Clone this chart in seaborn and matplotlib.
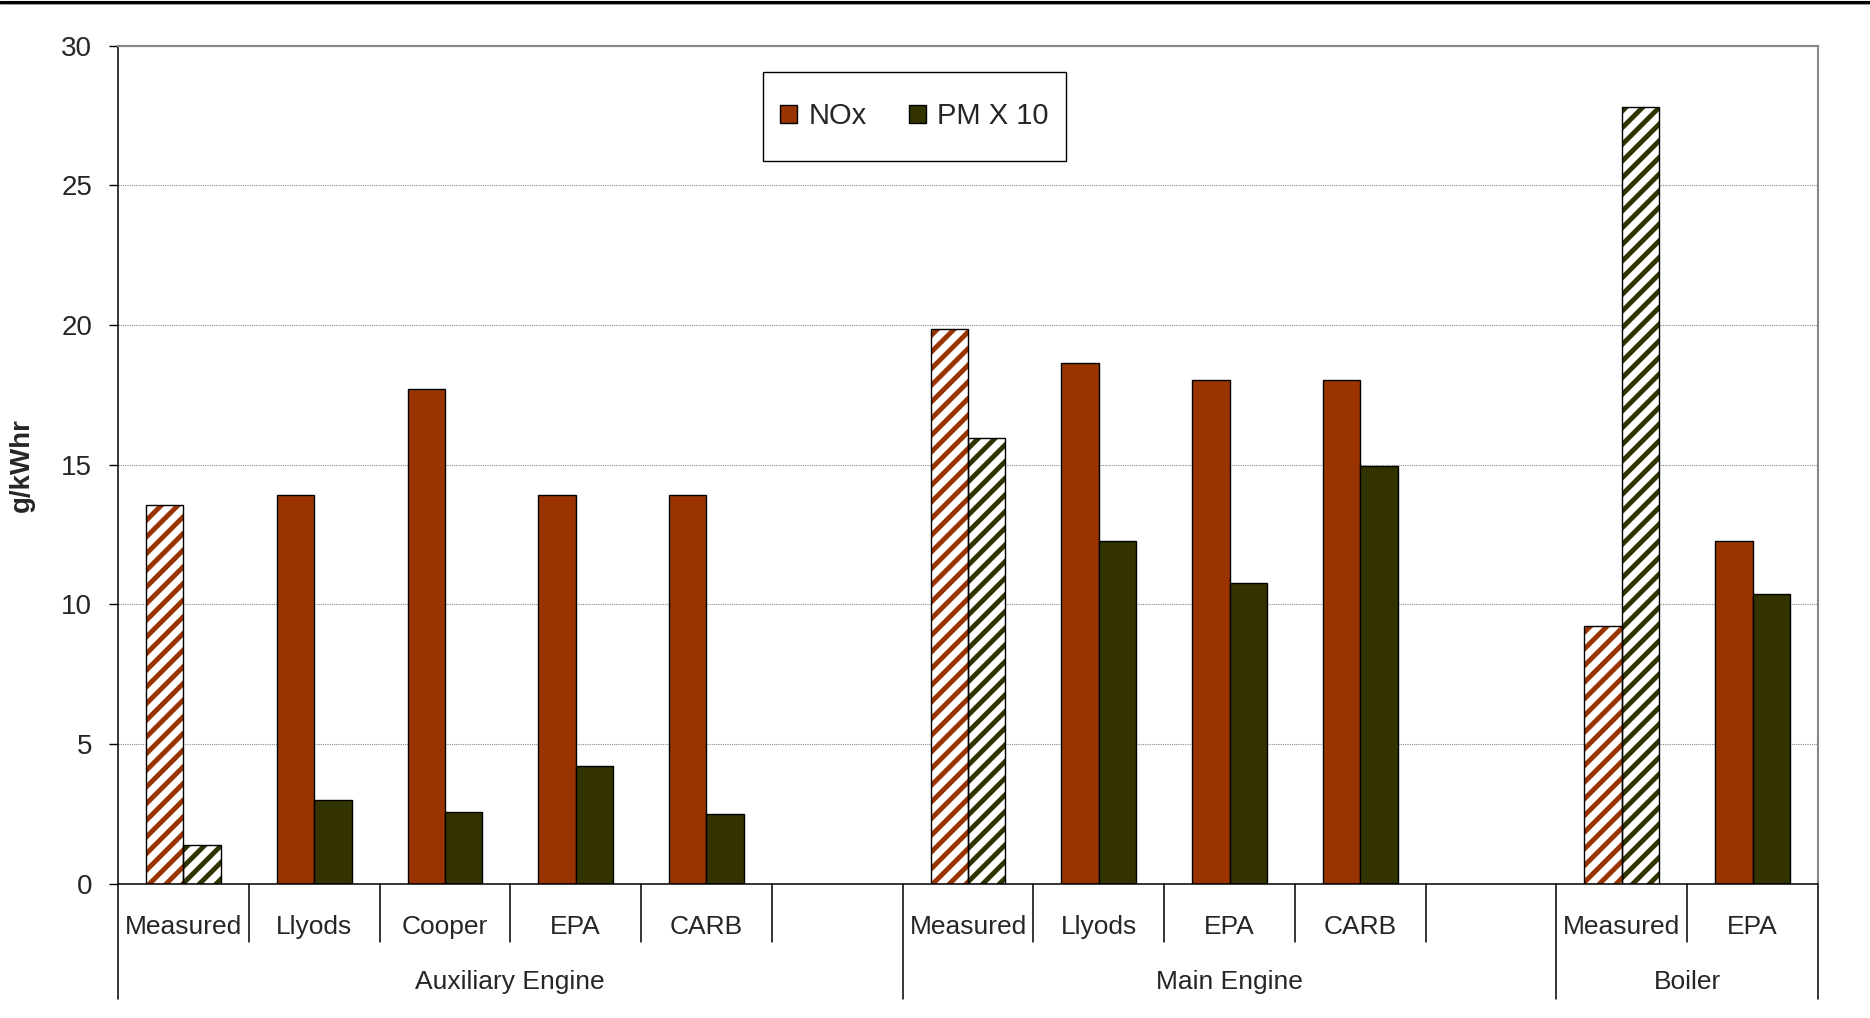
import numpy as np
import pandas as pd
import matplotlib
matplotlib.use("Agg")
import matplotlib.pyplot as plt
from matplotlib.patches import Patch, Rectangle
from matplotlib.lines import Line2D
import matplotlib.transforms as mtransforms
import seaborn as sns

# ---- data -------------------------------------------------------------
groups = ["Auxiliary Engine", "Main Engine", "Boiler"]
group_sources = [
    ["Measured", "Llyods", "Cooper", "EPA", "CARB", ""],
    ["Measured", "Llyods", "EPA", "CARB", ""],
    ["Measured", "EPA"],
]
nox = [13.55, 13.9, 17.7, 13.9, 13.9, None,
       19.85, 18.65, 18.05, 18.05, None,
       9.22, 12.26]
pm_x10 = [1.37, 2.98, 2.58, 4.2, 2.5, None,
          15.97, 12.27, 10.77, 14.95, None,
          27.8, 10.38]
series = ["NOx", "PM X 10"]
colors = {"NOx": "#993300", "PM X 10": "#333300"}
yticks = [0, 5, 10, 15, 20, 25, 30]

# ---- long-form table ----------------------------------------------------
slot_keys, slot_labels = [], []
for g, srcs in zip(groups, group_sources):
    for s in srcs:
        slot_keys.append(f"{g}|{s}")
        slot_labels.append(s)

rows = []
for key, lab, a, b in zip(slot_keys, slot_labels, nox, pm_x10):
    if a is not None:
        rows.append({"slot": key, "series": "NOx", "value": a})
    if b is not None:
        rows.append({"slot": key, "series": "PM X 10", "value": b})
df = pd.DataFrame(rows)

# ---- styling ------------------------------------------------------------
sns.set_style("white")
plt.rcParams["font.family"] = ["Liberation Sans", "DejaVu Sans"]
plt.rcParams["hatch.linewidth"] = 3.5

fig = plt.figure(figsize=(18.7, 10.18), dpi=100)
ax = fig.add_axes([118 / 1870, 1 - 883.7 / 1018, 1700 / 1870, 838 / 1018])

sns.barplot(data=df, x="slot", y="value", hue="series", order=slot_keys,
            hue_order=series, palette=colors, width=2 / 3.5, gap=0,
            edgecolor="black", linewidth=1.0, saturation=1, legend=False,
            errorbar=None, ax=ax)

# measured values are drawn hatched in the series colour
for container, name in zip(ax.containers, series):
    for bar in container.patches:
        idx = int(round(bar.get_x() + bar.get_width() / 2))
        if slot_labels[idx] == "Measured":
            bar.set_facecolor("white")
            bar.set_edgecolor(colors[name])
            bar.set_hatch("//")
            bar.set_linewidth(0)
            ax.add_patch(Rectangle(bar.get_xy(), bar.get_width(), bar.get_height(),
                                   fill=False, edgecolor="black", linewidth=1.0,
                                   zorder=bar.get_zorder() + 0.1))

# ---- axes ---------------------------------------------------------------
ax.set_ylim(0, 30)
ax.set_xlim(-0.5, len(slot_keys) - 0.5)
ax.set_yticks(yticks)
ax.set_yticklabels([str(t) for t in yticks])
ax.tick_params(axis="y", length=6.5, width=1.0, color="black", pad=12,
               labelsize=20, left=True, direction="out")
ax.tick_params(axis="x", length=0, labelbottom=False)
ax.set_xlabel("")
ax.set_ylabel("g/kWhr", fontsize=20, fontweight="bold")
ax.yaxis.set_label_coords(-0.0488, 0.5)

ax.yaxis.grid(True, color="#8a8a8a", linestyle=(0, (1, 1)), linewidth=0.8)
ax.set_axisbelow(True)

for side in ("left", "bottom"):
    ax.spines[side].set_color("black")
    ax.spines[side].set_linewidth(1.1)
for side in ("top", "right"):
    ax.spines[side].set_color("#878787")
    ax.spines[side].set_linewidth(1.5)

# ---- two-level category axis -------------------------------------------
trans = mtransforms.blended_transform_factory(ax.transData, ax.transAxes)
short_y = -(942 - 883.7) / 838
long_y = -(999 - 883.7) / 838
label_y = -(927 - 883.7) / 838
group_y = -(982 - 883.7) / 838

group_edges = [-0.5]
for srcs in group_sources:
    group_edges.append(group_edges[-1] + len(srcs))

for i in range(len(slot_keys) + 1):
    xb = i - 0.5
    y_end = long_y if xb in group_edges else short_y
    ax.add_line(Line2D([xb, xb], [0, y_end], transform=trans, color="black",
                       linewidth=1.1, clip_on=False))

for i, lab in enumerate(slot_labels):
    if lab:
        ax.text(i, label_y, lab, transform=trans, ha="center", va="center",
                fontsize=19)

for g, x0, x1 in zip(groups, group_edges[:-1], group_edges[1:]):
    ax.text((x0 + x1) / 2, group_y, g, transform=trans, ha="center",
            va="center", fontsize=19)

# ---- legend -------------------------------------------------------------
handles = [Patch(facecolor=colors[s], edgecolor="black", linewidth=1.0)
           for s in series]
leg = ax.legend(handles, series, loc="center", bbox_to_anchor=(0.4684, 0.9157),
                ncol=2, fontsize=21, frameon=False, borderpad=0,
                handlelength=0.58, handleheight=0.58, handletextpad=0.38,
                columnspacing=1.44, borderaxespad=0)
ax.add_patch(Rectangle((0.3792, 0.8628), 0.1783, 0.1058, transform=ax.transAxes,
                       facecolor="white", edgecolor="black", linewidth=1.0,
                       zorder=4.5, clip_on=False))
leg.set_zorder(5)

# page rule across the top
fig.add_artist(Line2D([0, 1], [1 - 1.5 / 1018, 1 - 1.5 / 1018],
                      transform=fig.transFigure, color="black", linewidth=2.2))
fig.add_artist(Line2D([0, 1], [1 - 4 / 1018, 1 - 4 / 1018],
                      transform=fig.transFigure, color="#9a9a9a", linewidth=0.7))

fig.savefig("out.png", dpi=100)
